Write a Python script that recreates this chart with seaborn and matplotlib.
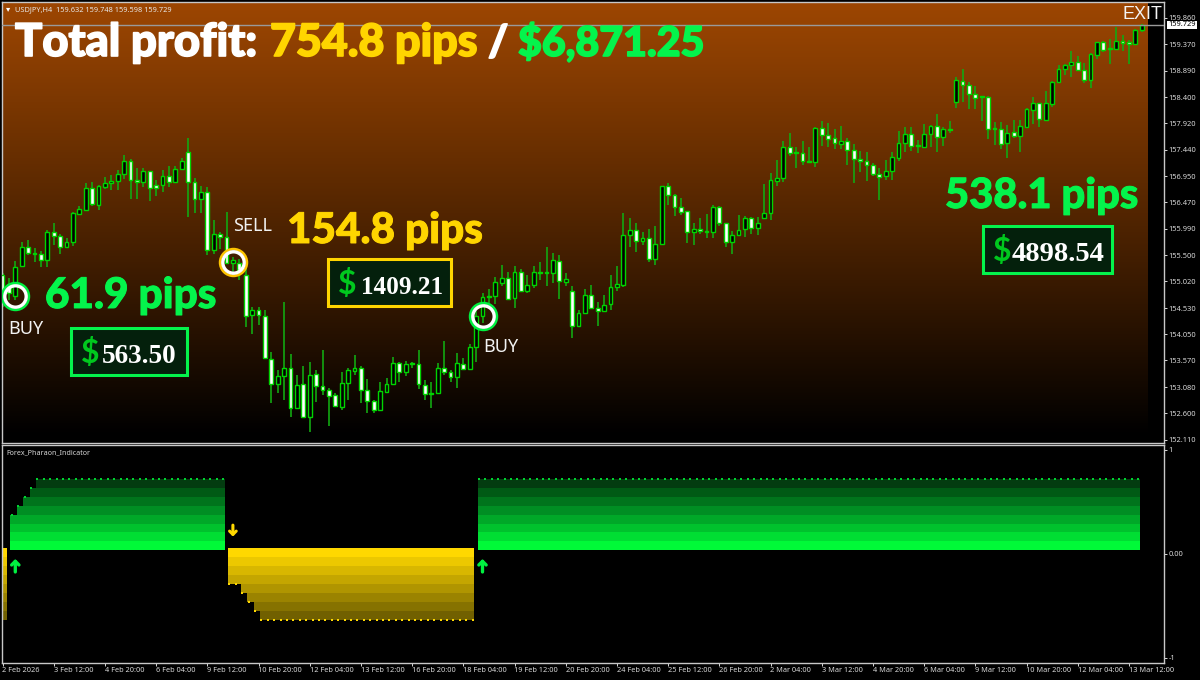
import numpy as np
import pandas as pd
import matplotlib.pyplot as plt
import matplotlib.patheffects as pe
from matplotlib.patches import Rectangle
import seaborn as sns

# USDJPY H4 candles, one value per bar
opens = [155.14, 154.98, 154.76, 155.30, 155.66, 155.54, 155.52, 155.41, 155.92, 155.86,
         155.65, 155.74, 156.25, 156.34, 156.73, 156.43, 156.76, 156.82, 156.87, 157.00,
         157.24, 156.88, 156.84, 157.04, 156.79, 156.79, 156.96, 156.85, 157.08, 157.40,
         156.84, 156.53, 156.67, 155.60, 155.89, 155.83, 155.35, 155.36, 155.13, 154.40,
         154.50, 154.39, 153.60, 153.13, 153.29, 153.43, 152.69, 153.14, 152.53, 153.32,
         153.10, 153.02, 152.93, 152.71, 153.15, 153.38, 153.43, 153.03, 152.83, 152.66,
         152.99, 153.14, 153.52, 153.35, 153.51, 153.50, 153.12, 152.98, 152.98, 153.44,
         153.36, 153.26, 153.50, 153.41, 153.81, 154.38, 154.75, 154.76, 155.00, 155.08,
         154.71, 155.20, 154.85, 154.95, 155.19, 155.18, 155.17, 155.40, 155.01, 154.85,
         154.20, 154.45, 154.78, 154.54, 154.48, 154.60, 154.91, 154.96, 155.87, 155.96,
         155.77, 155.81, 155.44, 155.70, 156.77, 156.61, 156.39, 156.31, 155.93, 155.98,
         155.95, 155.92, 156.38, 156.10, 155.74, 155.87, 155.98, 156.18, 156.01, 156.18,
         156.27, 156.87, 156.91, 157.48, 157.38, 157.37, 157.24, 157.22, 157.83, 157.71,
         157.66, 157.55, 157.59, 157.43, 157.27, 157.24, 157.15, 157.00, 156.95, 157.05,
         157.29, 157.57, 157.73, 157.52, 157.49, 157.73, 157.88, 157.67, 157.82, 158.32,
         158.70, 158.62, 158.46, 158.41, 158.41, 157.83, 157.82, 157.56, 157.76, 157.69,
         157.86, 158.17, 158.29, 157.99, 158.28, 158.68, 158.92, 158.99, 159.05, 158.90,
         158.71, 159.18, 159.41, 159.29, 159.28, 159.43, 159.41, 159.38, 159.63]
closes = [154.80, 154.80, 155.29, 155.66, 155.54, 155.52, 155.41, 155.92, 155.86, 155.65,
          155.75, 156.27, 156.35, 156.73, 156.45, 156.78, 156.82, 156.87, 157.00, 157.24,
          156.88, 156.85, 157.05, 156.73, 156.73, 156.96, 156.85, 157.08, 157.24, 156.84,
          156.53, 156.67, 155.60, 155.90, 155.83, 155.36, 155.41, 155.23, 154.39, 154.50,
          154.40, 153.61, 153.13, 153.29, 153.43, 152.69, 153.12, 152.53, 153.31, 153.10,
          153.02, 152.91, 152.73, 153.15, 153.40, 153.44, 153.03, 152.83, 152.66, 153.01,
          153.14, 153.52, 153.35, 153.51, 153.50, 153.14, 152.95, 152.95, 153.44, 153.36,
          153.26, 153.52, 153.41, 153.81, 154.38, 154.73, 154.73, 155.01, 155.08, 154.70,
          155.20, 154.85, 154.95, 155.19, 155.18, 155.17, 155.42, 155.02, 155.06, 154.21,
          154.45, 154.78, 154.54, 154.48, 154.59, 154.91, 154.97, 155.88, 155.97, 155.77,
          155.81, 155.44, 155.70, 156.77, 156.61, 156.39, 156.30, 155.92, 155.99, 155.95,
          155.92, 156.38, 156.10, 155.74, 155.88, 155.96, 156.18, 156.01, 156.09, 156.28,
          156.88, 156.92, 157.49, 157.37, 157.37, 157.24, 157.21, 157.83, 157.71, 157.64,
          157.57, 157.60, 157.43, 157.27, 157.24, 157.15, 157.00, 156.94, 157.04, 157.30,
          157.57, 157.73, 157.51, 157.50, 157.73, 157.88, 157.67, 157.81, 157.80, 158.71,
          158.62, 158.46, 158.38, 158.40, 157.82, 157.82, 157.55, 157.75, 157.69, 157.88,
          158.18, 158.29, 158.00, 158.29, 158.69, 158.92, 159.00, 159.05, 158.90, 158.71,
          159.19, 159.41, 159.27, 159.28, 159.43, 159.39, 159.38, 159.64, 159.73]
highs = [155.17, 155.08, 155.39, 155.75, 155.78, 155.63, 155.57, 155.96, 156.09, 155.90,
         155.81, 156.30, 156.40, 156.82, 156.85, 156.79, 156.94, 156.97, 157.07, 157.34,
         157.26, 157.10, 157.10, 157.05, 156.88, 157.07, 157.14, 157.14, 157.28, 157.66,
         156.91, 156.77, 156.75, 156.15, 155.93, 156.29, 155.47, 155.44, 155.29, 154.56,
         154.56, 154.50, 153.73, 153.39, 154.65, 153.69, 153.31, 153.46, 153.55, 153.40,
         153.77, 153.06, 152.97, 153.35, 153.43, 153.67, 153.46, 153.23, 152.85, 153.17,
         153.25, 153.64, 153.55, 153.56, 153.54, 153.77, 153.21, 153.18, 153.53, 153.92,
         153.40, 153.70, 153.61, 153.87, 154.47, 154.81, 154.88, 155.10, 155.33, 155.20,
         155.30, 155.25, 155.14, 155.31, 155.37, 155.65, 155.54, 155.51, 155.17, 154.94,
         154.50, 154.88, 154.95, 154.64, 154.77, 155.14, 155.31, 156.28, 156.18, 156.10,
         155.93, 155.99, 156.04, 156.77, 156.83, 156.62, 156.55, 156.32, 156.10, 156.18,
         156.26, 156.42, 156.40, 156.10, 155.95, 156.24, 156.22, 156.21, 156.20, 156.81,
         157.02, 157.25, 157.60, 157.75, 157.49, 157.60, 157.48, 157.85, 157.97, 157.92,
         157.82, 157.87, 157.66, 157.54, 157.41, 157.40, 157.19, 157.10, 157.25, 157.39,
         157.78, 157.86, 157.86, 157.61, 157.91, 157.90, 158.09, 157.85, 157.97, 158.77,
         158.92, 158.69, 158.60, 158.42, 158.42, 157.94, 157.94, 157.90, 157.99, 157.99,
         158.20, 158.40, 158.30, 158.51, 158.70, 158.99, 159.01, 159.25, 159.16, 159.03,
         159.21, 159.42, 159.44, 159.47, 159.69, 159.55, 159.46, 159.65, 159.75]
lows = [154.56, 154.68, 154.68, 155.29, 155.51, 155.38, 155.29, 155.29, 155.69, 155.52,
        155.65, 155.67, 156.24, 156.32, 156.40, 156.34, 156.72, 156.70, 156.69, 156.90,
        156.53, 156.53, 156.75, 156.50, 156.58, 156.67, 156.76, 156.83, 157.08, 156.21,
        156.27, 156.28, 155.51, 155.52, 155.61, 155.36, 155.11, 155.05, 154.19, 154.05,
        154.22, 153.61, 152.79, 152.97, 152.85, 152.54, 152.69, 152.53, 152.25, 152.80,
        152.94, 152.36, 152.73, 152.66, 152.85, 153.31, 152.79, 152.60, 152.60, 152.65,
        152.99, 153.14, 153.18, 153.29, 153.43, 153.04, 152.85, 152.69, 152.96, 153.31,
        153.18, 153.06, 153.39, 153.40, 153.54, 154.26, 154.62, 154.61, 154.94, 154.70,
        154.53, 154.85, 154.81, 154.90, 155.04, 154.93, 155.00, 154.70, 154.94, 153.98,
        154.19, 154.45, 154.53, 154.21, 154.46, 154.50, 154.85, 154.92, 155.66, 155.56,
        155.69, 155.38, 155.32, 155.69, 156.42, 156.22, 156.24, 155.73, 155.69, 155.90,
        155.81, 155.82, 156.03, 155.65, 155.52, 155.87, 155.83, 155.90, 155.87, 156.17,
        156.15, 156.78, 156.84, 157.32, 157.11, 157.16, 157.19, 157.13, 157.51, 157.48,
        157.45, 157.46, 157.16, 156.83, 157.03, 156.87, 156.95, 156.51, 156.89, 156.89,
        157.24, 157.39, 157.41, 157.37, 157.47, 157.49, 157.39, 157.50, 157.74, 158.20,
        158.32, 158.18, 158.18, 157.96, 157.63, 157.53, 157.45, 157.28, 157.65, 157.39,
        157.85, 157.91, 157.86, 157.96, 158.23, 158.66, 158.81, 158.78, 158.89, 158.67,
        158.57, 159.11, 159.23, 159.01, 159.26, 159.25, 159.01, 159.36, 159.60]

price_ticks = [159.860, 159.370, 158.890, 158.400, 157.920, 157.440, 156.950, 156.470, 155.990,
               155.500, 155.020, 154.530, 154.050, 153.570, 153.080, 152.600, 152.110]
last_price = 159.729

date_labels = ["2 Feb 2026", "3 Feb 12:00", "4 Feb 20:00", "6 Feb 04:00", "9 Feb 12:00", "10 Feb 20:00",
               "12 Feb 04:00", "13 Feb 12:00", "16 Feb 20:00", "18 Feb 04:00", "19 Feb 12:00",
               "20 Feb 20:00", "24 Feb 04:00", "25 Feb 12:00", "26 Feb 20:00", "2 Mar 04:00",
               "3 Mar 12:00", "4 Mar 20:00", "6 Mar 04:00", "9 Mar 12:00", "10 Mar 20:00",
               "12 Mar 04:00", "13 Mar 12:00"]
date_step = 8

# signals: bar, price on the chart
signal_bars = [2, 36, 75]
signal_prices = [154.76, 155.38, 154.39]
signal_kinds = ["buy", "sell", "buy"]

# indicator regimes: first bar, last bar, and how many bands the first bars have
regime_kinds = ["sell", "buy", "sell", "buy"]
regime_first = [0, 1, 35, 74]
regime_last = [0, 34, 73, 177]
regime_ramp = [[8], [4, 5, 6, 7, 8], [4, 4, 5, 6, 7, 8], [8]]
buy_edges = [0.035, 0.120, 0.205, 0.290, 0.375, 0.460, 0.545, 0.630, 0.715]
sell_edges = [0.052, -0.034, -0.120, -0.207, -0.293, -0.379, -0.466, -0.552, -0.638]
buy_colors = ["#00fa38", "#00de33", "#00c22d", "#00a828", "#008e23", "#00741c", "#005a15", "#033c10"]
sell_colors = ["#ffd800", "#ecc800", "#d8b700", "#c4a600", "#b09500", "#9b8300", "#867200", "#716000"]

W, H = 1200, 680
BAR_PX = 6.4
X0 = 2.5


def fx(x):
    return x / W


def fy(y):
    return 1 - y / H


sns.set_theme(style="dark", rc={
    "figure.facecolor": "black",
    "axes.facecolor": "black",
    "axes.edgecolor": "#c8c8c8",
    "axes.linewidth": 1.0,
    "xtick.color": "#d8d8d8",
    "ytick.color": "#d8d8d8",
})
plt.rcParams["font.family"] = ["Noto Sans", "DejaVu Sans"]

fig = plt.figure(figsize=(W / 100, H / 100), dpi=100)
ax = fig.add_axes([fx(2), fy(442.7), fx(1163.5 - 2), (442.7 - 2) / H])
ax2 = fig.add_axes([fx(2), fy(663), fx(1163.5 - 2), (663 - 444.5) / H])

xlim = ((2 - X0) / BAR_PX, (1163.5 - X0) / BAR_PX)
ylim = (152.06, 160.15)

# background gradient
grad = np.linspace(0, 1, 256) ** 1.05
rgb = np.zeros((256, 1, 3))
rgb[:, 0, 0] = 0.615 * (1 - grad)
rgb[:, 0, 1] = 0.275 * (1 - grad)
rgb[:, 0, 2] = 0.005 * (1 - grad)
ax.imshow(rgb, extent=(xlim[0], (1147.5 - X0) / BAR_PX, 152.2, ylim[1]), aspect="auto", zorder=0, origin="upper")

df = pd.DataFrame({"open": opens, "high": highs, "low": lows, "close": closes})
df["bar"] = df.index
df["bottom"] = df[["open", "close"]].min(axis=1)
df["height"] = (df["open"] - df["close"]).abs().clip(lower=0.02)
down = df[df["close"] < df["open"]]
up = df[df["close"] >= df["open"]]

ax.vlines(df["bar"], df["low"], df["high"], color="#12a812", linewidth=1.2, zorder=2)
sns.barplot(data=down, x="bar", y="height", bottom=down["bottom"], native_scale=True, errorbar=None,
            color="white", saturation=1, edgecolor="#00d400", linewidth=1.0, width=0.6, ax=ax, zorder=3)
sns.barplot(data=up, x="bar", y="height", bottom=up["bottom"], native_scale=True, errorbar=None,
            color="black", saturation=1, edgecolor="#00d400", linewidth=1.0, width=0.6, ax=ax, zorder=3)

ax.axhline(last_price, color="#9a9a9a", linewidth=1.0, zorder=4)

# signal rings
for bar, price, kind in zip(signal_bars, signal_prices, signal_kinds):
    ring = "#00f040" if kind == "buy" else "#fcc400"
    ax.plot(bar, price, "o", ms=19.2, mfc="none", mec=ring, mew=2.0, zorder=5)
    ax.plot(bar, price, "o", ms=15.4, mfc="none", mec="white", mew=2.4, zorder=6)

ax.set_xlim(xlim)
ax.set_ylim(ylim)
ax.set_xlabel("")
ax.set_ylabel("")
ax.set_xticks([])
ax.yaxis.tick_right()
ax.set_yticks(price_ticks)
ax.set_yticklabels([f"{p:.3f}" for p in price_ticks], fontsize=5.4)
ax.tick_params(axis="y", length=2.5, width=0.7, pad=1.0, left=False, right=True)
ax.grid(False)

ax.annotate(f"{last_price:.3f}", xy=(1, last_price), xycoords=("axes fraction", "data"),
            xytext=(3.5, 0), textcoords="offset points", fontsize=5.4, color="black", va="center",
            bbox=dict(boxstyle="square,pad=0.12", fc="white", ec="white", lw=0), zorder=10, annotation_clip=False)

# indicator window
dot_x, dot_y, dot_c = [], [], []
for kind, first, last, ramp in zip(regime_kinds, regime_first, regime_last, regime_ramp):
    edges = buy_edges if kind == "buy" else sell_edges
    colors = buy_colors if kind == "buy" else sell_colors
    counts = list(ramp) + [8] * (last - first + 1 - len(ramp))
    for band in range(8):
        start = first + next(i for i, c in enumerate(counts) if c > band)
        left = start + 0.22 if start > 0 else -0.1
        ax2.bar(left, edges[band + 1] - edges[band], width=last + 0.7 - left,
                bottom=edges[band], align="edge", color=colors[band], linewidth=0, zorder=2)
    for i, c in enumerate(counts):
        if first + i > 0:
            dot_x.append(first + i + 0.45)
            dot_y.append(edges[c])
            dot_c.append("#00d030" if kind == "buy" else "#ffd800")

dots = pd.DataFrame({"bar": dot_x, "level": dot_y, "color": dot_c})
sns.scatterplot(data=dots, x="bar", y="level", hue="color", palette={"#00d030": "#00d030", "#ffd800": "#ffd800"},
                marker="s", s=2.2, linewidth=0, legend=False, ax=ax2, zorder=3)

for bar, kind in zip(signal_bars, signal_kinds):
    if kind == "buy":
        ax2.annotate("", xy=(bar, -0.05), xytext=(bar, -0.175),
                     arrowprops=dict(arrowstyle="->,head_length=0.22,head_width=0.22", color="#00f040", lw=2.4,
                                     shrinkA=0, shrinkB=0))
    else:
        ax2.annotate("", xy=(bar, 0.165), xytext=(bar, 0.275),
                     arrowprops=dict(arrowstyle="->,head_length=0.2,head_width=0.2", color="#ffd800", lw=2.2,
                                     shrinkA=0, shrinkB=0))

ax2.set_xlim(xlim)
ax2.set_ylim(-1.05, 1.05)
ax2.set_xlabel("")
ax2.set_ylabel("")
ax2.yaxis.tick_right()
ax2.set_yticks([1, 0, -1])
ax2.set_yticklabels(["1", "0.00", "-1"], fontsize=5.4)
ax2.set_xticks([i * date_step for i in range(len(date_labels))])
ax2.set_xticklabels(date_labels, fontsize=5.3, ha="left")
ax2.tick_params(axis="x", length=2.5, width=0.7, pad=0.6, bottom=True)
ax2.tick_params(axis="y", length=2.5, width=0.7, pad=1.0, left=False, right=True)
ax2.grid(False)


def put(x, y, s, color="white", size=10, weight="normal", family=None, stroke=0):
    t = fig.text(fx(x), fy(y), s, color=color, fontsize=size, fontweight=weight, ha="left", va="baseline",
                 family=family if family else ["Noto Sans", "DejaVu Sans"], zorder=20)
    if stroke:
        t.set_path_effects([pe.withStroke(linewidth=stroke, foreground=color)])
    return t


GREEN = "#04f44c"
GOLD = "#ffd500"
BIG = ["Lato", "DejaVu Sans"]

put(6, 11, "\u25be", color="white", size=6, family=["DejaVu Sans"])
put(15, 11, "USDJPY,H4  159.632 159.748 159.598 159.729", color="#e8e8e8", size=5.3)
put(6, 454, "Forex_Pharaon_Indicator", color="#d8d8d8", size=5.1)

put(15, 56, "Total profit:", size=32.6, weight=900, family=BIG, stroke=1.2)
put(270, 56, "754.8 pips", color=GOLD, size=32.2, weight=900, family=BIG, stroke=1.2)
put(488, 56, "/", size=31, weight=900, family=BIG, stroke=1.2)
put(518, 56, "$6,871.25", color=GREEN, size=29.6, weight=900, family=BIG, stroke=1.2)

put(45, 308, "61.9 pips", color=GREEN, size=30.4, weight=900, family=BIG, stroke=0.7)
put(287, 243, "154.8 pips", color=GOLD, size=30.4, weight=900, family=BIG, stroke=0.7)
put(945, 208, "538.1 pips", color=GREEN, size=30, weight=900, family=BIG, stroke=0.7)

put(8, 334, "BUY", color="#f2f2f2", size=13)
put(233, 231, "SELL", color="#f2f2f2", size=13)
put(483, 351.5, "BUY", color="#f2f2f2", size=13)
put(1122, 19, "EXIT", color="#f4f4f4", size=13, family=["Liberation Sans"])

boxes = [(71, 328, 187, 375, GREEN, "563.50", 31, 19.5), (328, 259, 451, 306, GOLD, "1409.21", 33, 18.2),
         (983, 226, 1112, 273, GREEN, "4898.54", 29, 20.5)]
for x1, y1, x2, y2, edge, amount, pad, size in boxes:
    fig.add_artist(Rectangle((fx(x1), fy(y2)), (x2 - x1) / W, (y2 - y1) / H, transform=fig.transFigure,
                             facecolor="#04200c", edgecolor=edge, linewidth=2.2, zorder=15))
    put(x1 + 10, y2 - 12, "$", color="#00c81e", size=23, weight="bold", family=["Lato", "DejaVu Sans"])
    put(x1 + pad, y2 - 12, amount, color="white", size=size, weight="bold", family=["Liberation Serif"])

plt.savefig("out.png", dpi=100, facecolor="black")
plt.close()
